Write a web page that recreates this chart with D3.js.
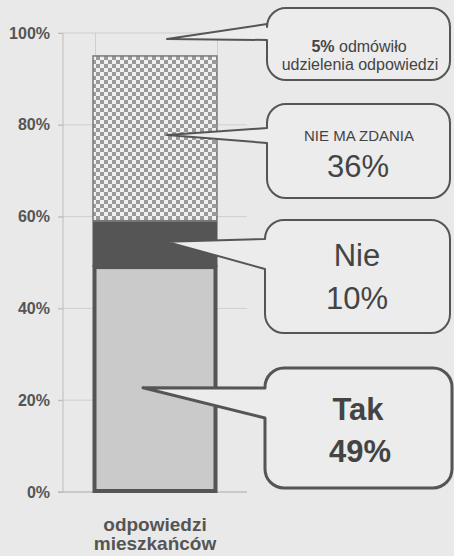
<!DOCTYPE html>
<html><head><meta charset="utf-8">
<script src="https://cdn.jsdelivr.net/npm/d3@7"></script>
<style>html,body{margin:0;padding:0;background:#e9e9e9;}svg{display:block;}</style>
</head><body>
<script>
const categories = ["odpowiedzi mieszkańców"];
const segmentNames = ["Tak", "Nie", "NIE MA ZDANIA", "odmówiło"];
const segmentValues = [49, 10, 36, 5];
const yTicks = [0, 20, 40, 60, 80, 100];

const W = 454, H = 556;
const svg = d3.select("body").append("svg").attr("width", W).attr("height", H);
svg.append("rect").attr("width", W).attr("height", H).attr("fill", "#e9e9e9");

const defs = svg.append("defs");
const pat = defs.append("pattern").attr("id", "checker").attr("patternUnits", "userSpaceOnUse")
  .attr("width", 8).attr("height", 8);
pat.append("rect").attr("width", 8).attr("height", 8).attr("fill", "#f0f0f0");
pat.append("rect").attr("width", 4).attr("height", 4).attr("fill", "#9a9a9a");
pat.append("rect").attr("x", 4).attr("y", 4).attr("width", 4).attr("height", 4).attr("fill", "#9a9a9a");

const y = d3.scaleLinear().domain([0, 100]).range([492, 33]);
const x = d3.scaleBand().domain(categories).range([63, 247]).paddingInner(0).paddingOuter(0.236);

// gridlines
const g = svg.append("g");
g.selectAll("line.grid").data(yTicks.filter(d => d > 0)).join("line")
  .attr("x1", 58).attr("x2", 247).attr("y1", d => y(d)).attr("y2", d => y(d))
  .attr("stroke", "#cfcfcf").attr("stroke-width", 1);
[x(categories[0]) + 3, x(categories[0]) + x.bandwidth()].forEach(vx => {
  g.append("line").attr("x1", vx).attr("x2", vx).attr("y1", y(100)).attr("y2", y(95))
    .attr("stroke", "#d0d0d0");
});

// axis
const font = "Liberation Sans, Arial, sans-serif";
const yAxis = d3.axisLeft(y).tickValues(yTicks).tickFormat(d => d + "%").tickSize(5).tickPadding(8);
const ax = svg.append("g").attr("transform", "translate(63,0)").call(yAxis);
ax.select(".domain").attr("stroke", "#bdbdbd").attr("stroke-width", 1).attr("d", `M0,${y(100)}V${y(0)}`);
ax.selectAll(".tick line").attr("stroke", "#bdbdbd");
ax.selectAll(".tick text").attr("fill", "#555").attr("font-family", font)
  .attr("font-size", 16).attr("font-weight", "bold");
svg.append("line").attr("x1", 58).attr("x2", 247).attr("y1", y(0)).attr("y2", y(0))
  .attr("stroke", "#bdbdbd").attr("stroke-width", 1.5);

// stacked bar
let cum = 0;
const stacks = segmentValues.map((v, i) => { const s = {name: segmentNames[i], v0: cum, v1: cum + v}; cum += v; return s; });
const bx = x(categories[0]), bw = x.bandwidth();
const barG = svg.append("g");
barG.append("rect").attr("x", bx + 2).attr("y", y(stacks[0].v1)).attr("width", bw - 4)
  .attr("height", y(stacks[0].v0) - y(stacks[0].v1) - 1)
  .attr("fill", "#cacaca").attr("stroke", "#555").attr("stroke-width", 4);
barG.append("rect").attr("x", bx).attr("y", y(stacks[1].v1)).attr("width", bw)
  .attr("height", y(stacks[1].v0) - y(stacks[1].v1)).attr("fill", "#555");
barG.append("rect").attr("x", bx + 0.5).attr("y", y(stacks[2].v1)).attr("width", bw - 1)
  .attr("height", y(stacks[2].v0) - y(stacks[2].v1) - 0.5)
  .attr("fill", "url(#checker)").attr("stroke", "#7a7a7a").attr("stroke-width", 1.5);

// category label
const cx = bx + bw / 2;
const lab = svg.append("text").attr("x", cx).attr("text-anchor", "middle")
  .attr("font-family", font).attr("font-size", 19)
  .attr("font-weight", "bold").attr("fill", "#555");
lab.append("tspan").attr("x", cx).attr("y", 531).text("odpowiedzi");
lab.append("tspan").attr("x", cx).attr("y", 550).text("mieszkańców");

// callouts
function calloutPath(x0, y0, w, h, r, a, b, tx, ty) {
  const x1 = x0 + w, y1 = y0 + h;
  return `M${x0 + r},${y0}H${x1 - r}A${r},${r} 0 0 1 ${x1},${y0 + r}V${y1 - r}A${r},${r} 0 0 1 ${x1 - r},${y1}` +
    `H${x0 + r}A${r},${r} 0 0 1 ${x0},${y1 - r}V${b}L${tx},${ty}L${x0},${a}V${y0 + r}A${r},${r} 0 0 1 ${x0 + r},${y0}Z`;
}
const callouts = [
  {box: [267, 8, 183, 72], a: 24, b: 40, tip: [167, y(98.7)], sw: 2},
  {box: [267, 104, 183, 94], a: 128, b: 143, tip: [167, y(77.8)], sw: 2},
  {box: [265, 220, 185, 113], a: 239, b: 269, tip: [167, y(54.5)], sw: 2},
  {box: [265, 368, 187, 120], a: 388, b: 418, tip: [143, y(22.7)], sw: 3}
];
callouts.forEach(c => {
  svg.append("path").attr("d", calloutPath(c.box[0], c.box[1], c.box[2], c.box[3], 19, c.a, c.b, c.tip[0], c.tip[1]))
    .attr("fill", "#ececec").attr("stroke", "#555").attr("stroke-width", c.sw).attr("stroke-linejoin", "round");
});

function txt(xx, yy, size, parts) {
  const t = svg.append("text").attr("x", xx).attr("y", yy).attr("text-anchor", "middle")
    .attr("font-family", font).attr("font-size", size).attr("fill", "#444");
  parts.forEach(p => t.append("tspan").attr("font-weight", p[1] ? "bold" : "normal").text(p[0]));
  return t;
}
txt(359, 52, 16, [["5%", true], [" odmówiło", false]]);
txt(360, 70, 16, [["udzielenia odpowiedzi", false]]);
txt(359, 141, 15, [["NIE MA ZDANIA", false]]);
txt(358, 177, 31, [["36%", false]]);
txt(357, 266, 31, [["Nie", false]]);
txt(357, 309, 31, [["10%", false]]);
txt(358, 420, 31, [["Tak", true]]);
txt(360, 462, 31, [["49%", true]]);
</script>
</body></html>
